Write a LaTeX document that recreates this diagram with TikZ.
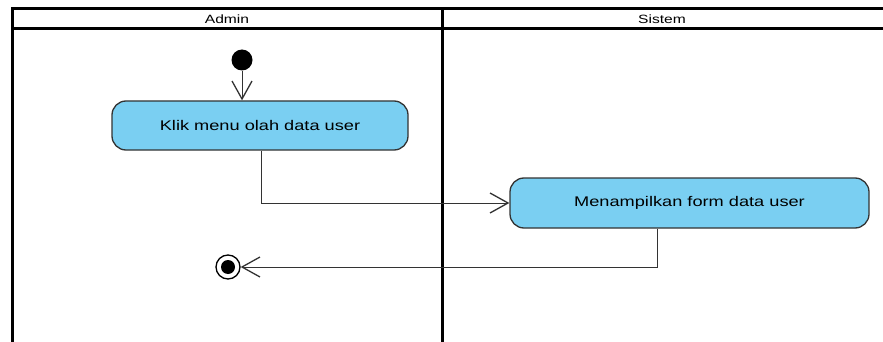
\documentclass[tikz,border=0pt]{standalone}
\usepackage{fontspec}
\setmainfont{Liberation Sans}
\newfontfamily\umlfont[FakeStretch=1.3]{Liberation Sans}
\usetikzlibrary{arrows.meta}
\definecolor{actblue}{RGB}{122,207,242}
\tikzset{
    action/.style={draw=black!80, fill=actblue, rounded corners=14pt, line width=1.3pt, font=\umlfont\fontsize{14}{16}\selectfont},
    header/.style={font=\umlfont\fontsize{12}{14}\selectfont},
    flow/.style={draw=black!80, line width=1pt, -{Straight Barb[length=18pt, width=20pt, line width=1.3pt]}},
    lane/.style={line width=3pt},
}
\begin{document}
\begin{tikzpicture}[x=1pt, y=-1pt]
    \useasboundingbox (0,0) rectangle (883,342);
    % Swimlanes
    \draw[lane] (12,342) -- (12,9) -- (885,9);
    \draw[lane] (12,29) -- (885,29);
    \draw[lane] (442,9) -- (442,342);
    \node[header] (admin) at (227,19) {Admin};
    \node[header] (sistem) at (662,19) {Sistem};
    % Nodes
    \node[circle, fill=black, minimum size=21pt, inner sep=0pt] (start) at (242,60) {};
    \node[action, minimum width=296pt, minimum height=49pt] (klik) at (260,125.5) {Klik menu olah data user};
    \node[action, minimum width=359pt, minimum height=50pt] (tampil) at (689.5,203) {Menampilkan form data user};
    \node[circle, draw, line width=1.3pt, fill=white, minimum size=24pt, inner sep=0pt] (end) at (228,267) {};
    \node[circle, fill=black, minimum size=14pt, inner sep=0pt] at (end) {};
    % Flows
    \draw[flow] (start) -- (start |- klik.north);
    \draw[flow] (klik.south -| 261,0) |- (tampil.west);
    \draw[flow] (tampil.south -| 657,0) |- (end.east);
\end{tikzpicture}
\end{document}
